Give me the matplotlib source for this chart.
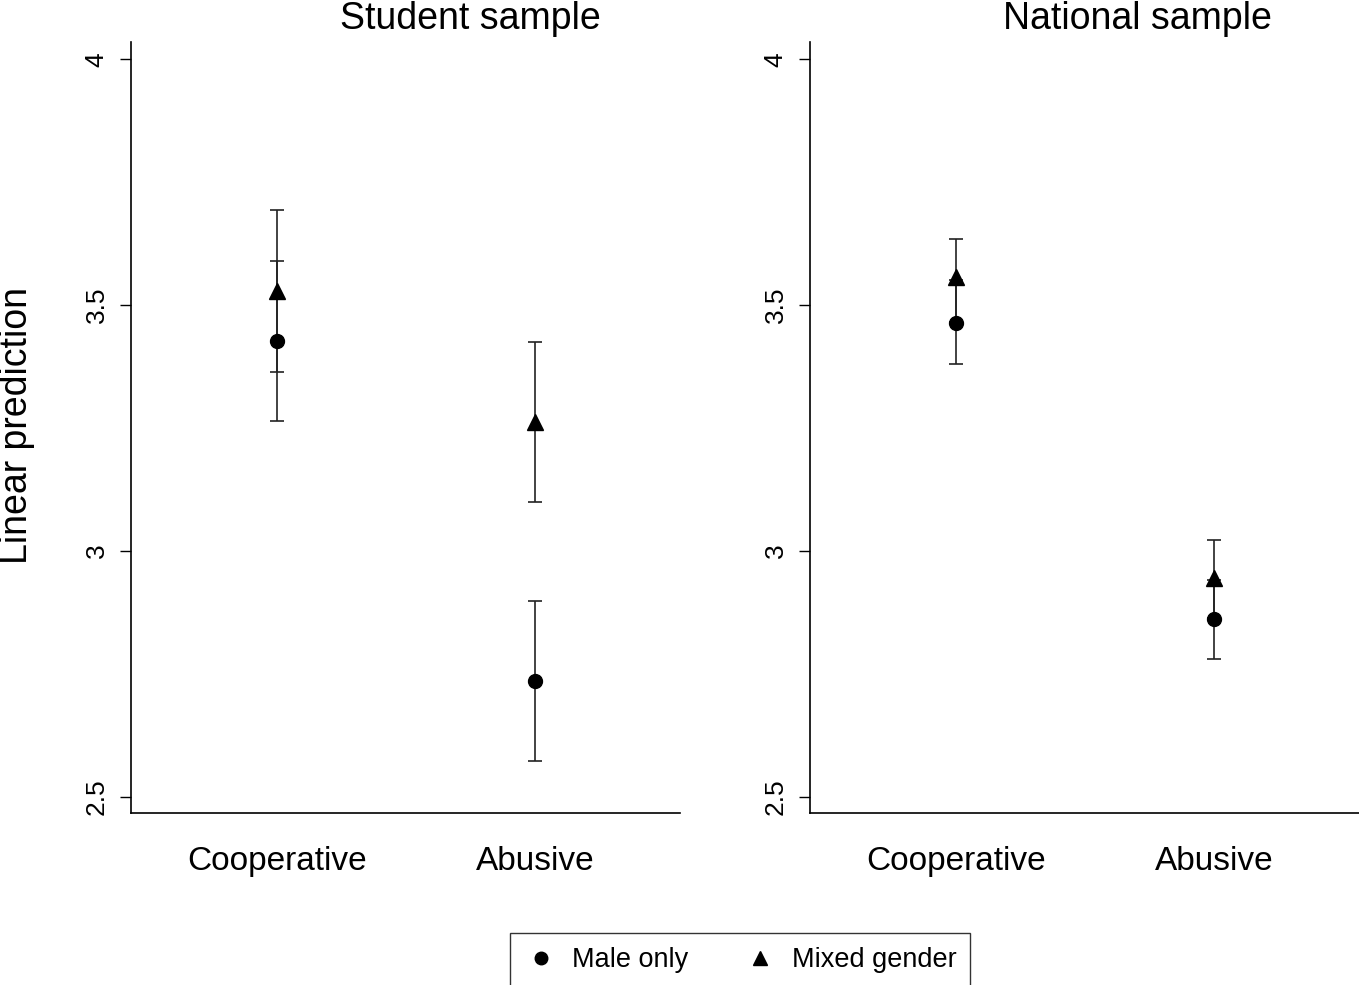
import matplotlib
matplotlib.use('Agg')
import matplotlib.pyplot as plt
from matplotlib.lines import Line2D

plt.rcParams['font.family'] = ['Liberation Sans', 'DejaVu Sans']

# Data (linear predictions with 95% CI)
categories = ['Cooperative', 'Abusive']
panels = ['Student sample', 'National sample']

student_male = [3.427, 2.736]
student_male_lo = [3.264, 2.573]
student_male_hi = [3.589, 2.898]
student_mixed = [3.529, 3.262]
student_mixed_lo = [3.364, 3.100]
student_mixed_hi = [3.693, 3.425]

national_male = [3.463, 2.862]
national_male_lo = [3.380, 2.780]
national_male_hi = [3.552, 2.942]
national_mixed = [3.557, 2.945]
national_mixed_lo = [3.466, 2.864]
national_mixed_hi = [3.634, 3.022]

data = [
    (student_male, student_male_lo, student_male_hi, student_mixed, student_mixed_lo, student_mixed_hi),
    (national_male, national_male_lo, national_male_hi, national_mixed, national_mixed_lo, national_mixed_hi),
]

W, H = 1359, 985
fig = plt.figure(figsize=(W / 100, H / 100), dpi=100)

ax_lefts = [131, 810]
title_x = [470, 1137]
x = [1, 2]

for i, (m, mlo, mhi, g, glo, ghi) in enumerate(data):
    ax = fig.add_axes([ax_lefts[i] / W, (H - 813) / H, 549 / W, (813 - 42) / H])
    m_err = [[a - b for a, b in zip(m, mlo)], [b - a for a, b in zip(m, mhi)]]
    g_err = [[a - b for a, b in zip(g, glo)], [b - a for a, b in zip(g, ghi)]]
    ax.errorbar(x, m, yerr=m_err, fmt='o', color='black', ecolor='#222222',
                elinewidth=1.2, capsize=4.7, capthick=1.2, markersize=10, zorder=3)
    ax.errorbar(x, g, yerr=g_err, fmt='^', color='black', ecolor='#222222',
                elinewidth=1.2, capsize=4.7, capthick=1.2, markersize=11, zorder=3)
    ax.set_xlim(0.434, 2.562)
    ax.set_ylim(2.4675, 4.035)
    ax.set_xticks(x)
    ax.set_xticklabels(categories, fontsize=24)
    ax.set_yticks([2.5, 3, 3.5, 4])
    ax.set_yticklabels(['2.5', '3', '3.5', '4'], fontsize=19, rotation=90, va='center')
    ax.tick_params(axis='x', length=0, pad=24)
    ax.tick_params(axis='y', length=8, width=1.0, pad=8)
    for s in ['top', 'right']:
        ax.spines[s].set_visible(False)
    for s in ['left', 'bottom']:
        ax.spines[s].set_linewidth(1.2)
    fig.text(title_x[i] / W, 1 - 29 / H, panels[i], fontsize=27, ha='center', va='baseline')

fig.text(17 / W, 1 - 426 / H, 'Linear prediction', fontsize=27, rotation=90,
         ha='center', va='center')

handles = [
    Line2D([], [], marker='o', color='black', linestyle='none', markersize=9),
    Line2D([], [], marker='^', color='black', linestyle='none', markersize=10),
]
leg = fig.legend(handles, ['Male only', 'Mixed gender'], loc='center',
                 bbox_to_anchor=(740 / W, 1 - 960 / H), ncol=2, fontsize=19.5,
                 frameon=True, fancybox=False, edgecolor='black',
                 handletextpad=0.5, columnspacing=2.0, borderpad=0.5, handlelength=1.3)
leg.get_frame().set_linewidth(1.0)

fig.savefig('out.png', dpi=100)
